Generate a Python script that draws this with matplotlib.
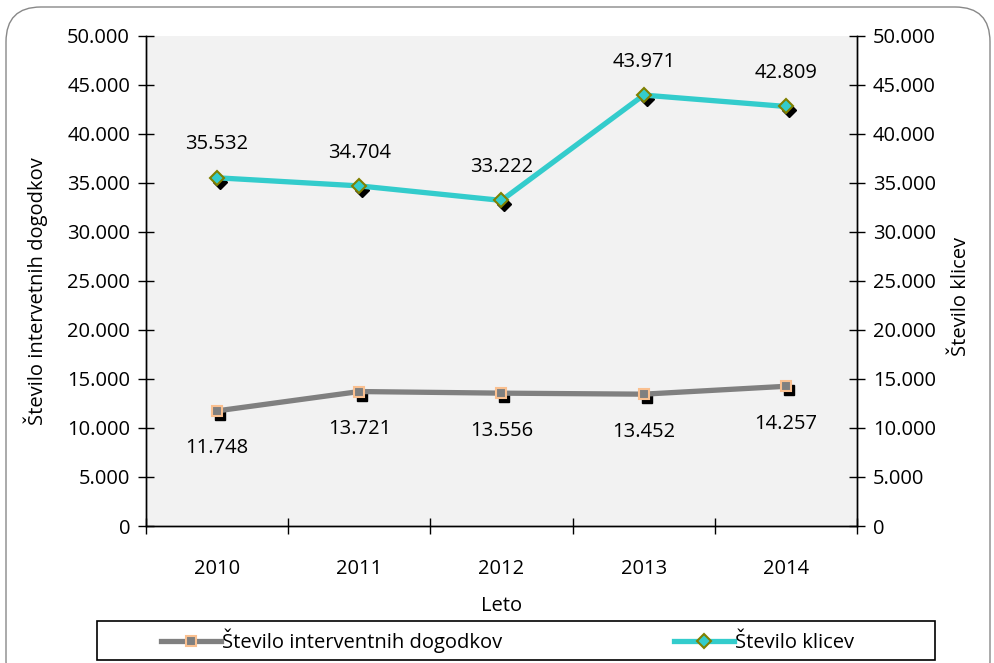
import matplotlib
matplotlib.use("Agg")
import matplotlib.pyplot as plt
import matplotlib.transforms as mtransforms
from matplotlib.patches import FancyBboxPatch, Rectangle
from matplotlib.ticker import FixedLocator, FuncFormatter

years = ["2010", "2011", "2012", "2013", "2014"]
dogodki = [11748, 13721, 13556, 13452, 14257]
klici = [35532, 34704, 33222, 43971, 42809]
y_ticks = [0, 5000, 10000, 15000, 20000, 25000, 30000, 35000, 40000, 45000, 50000]

FONT = ["Open Sans", "DejaVu Sans"]
plt.rcParams["font.family"] = FONT
FS = 14.5

def fmt(v):
    return f"{int(v):,}".replace(",", ".")

fig = plt.figure(figsize=(9.95, 6.63), dpi=100)
fig.patch.set_facecolor("white")

# rounded outer border
border = FancyBboxPatch((6/995, -0.05), (990-6)/995, (656/663) + 0.05,
                        boxstyle="round,pad=0,rounding_size=0.035",
                        transform=fig.transFigure, facecolor="none",
                        edgecolor="#888888", linewidth=1.0,
                        mutation_aspect=995/663)
fig.patches.append(border)

L, R, T, B = 146/995, 857/995, 1-36/663, 1-526/663
ax = fig.add_axes([L, B, R-L, T-B])
ax.set_facecolor("#F2F2F2")
ax2 = ax.twinx()

x = list(range(len(years)))
ax.set_xlim(-0.5, len(years)-0.5)
for a in (ax, ax2):
    a.set_ylim(0, 50000)
    a.yaxis.set_major_locator(FixedLocator(y_ticks))
    a.yaxis.set_major_formatter(FuncFormatter(lambda v, p: fmt(v)))
    for s in a.spines.values():
        s.set_color("black")
        s.set_linewidth(1.0)
    a.spines["top"].set_visible(False)

ax.tick_params(axis="y", direction="inout", length=11, width=1, labelsize=FS, pad=6)
ax2.tick_params(axis="y", direction="inout", length=11, width=1, labelsize=FS, pad=6)

# x ticks at boundaries, labels at centers
ax.set_xticks([i - 0.5 for i in range(len(years)+1)])
ax.set_xticklabels([])
ax.set_xticks(x, minor=True)
ax.set_xticklabels(years, minor=True, fontsize=FS)
ax.tick_params(axis="x", which="major", direction="inout", length=11, width=1)
ax.tick_params(axis="x", which="minor", length=0, pad=24)

shadow = mtransforms.offset_copy(ax.transData, fig=fig, x=3, y=-4, units="dots")
shadow2 = mtransforms.offset_copy(ax2.transData, fig=fig, x=3, y=-4, units="dots")

# gray series (left axis)
ax.plot(x, dogodki, linestyle="none", marker="s", markersize=7.5,
        color="black", transform=shadow, zorder=3)
ln1, = ax.plot(x, dogodki, color="#808080", linewidth=3.8, marker="s",
               markersize=7.5, markerfacecolor="#808080",
               markeredgecolor="#FAC090", markeredgewidth=1.5, zorder=4,
               label="Število interventnih dogodkov")
for xi, v in zip(x, dogodki):
    ax.annotate(fmt(v), (xi, v), xytext=(0, -27), textcoords="offset points",
                ha="center", va="center", fontsize=FS, zorder=6)

# cyan series (right axis)
ax2.plot(x, klici, linestyle="none", marker="D", markersize=7.5,
         color="black", transform=shadow2, zorder=3)
ln2, = ax2.plot(x, klici, color="#33CCCC", linewidth=3.8, marker="D",
                markersize=7.5, markerfacecolor="#33CCCC",
                markeredgecolor="#808000", markeredgewidth=1.5, zorder=4,
                label="Število klicev")
for xi, v in zip(x, klici):
    ax2.annotate(fmt(v), (xi, v), xytext=(0, 24), textcoords="offset points",
                 ha="center", va="center", fontsize=FS, zorder=6)

ax.set_ylabel("Število intervetnih dogodkov", fontsize=FS)
ax.yaxis.set_label_coords((48-146)/711, (526-291)/490)
ax2.set_ylabel("Število klicev", fontsize=FS)
ax2.yaxis.set_label_coords((951-146)/711, (526-297)/490)
ax.set_xlabel("Leto", fontsize=FS, color="black")
ax.xaxis.set_label_coords(0.5, (526-596)/490)

# legend frame
fig.patches.append(Rectangle((97/995, 1-660/663), (935-97)/995, (660-621)/663,
                             transform=fig.transFigure, facecolor="white",
                             edgecolor="black", linewidth=1.2, zorder=1))
yc = 1 - 641/663
lg = fig.legend(handles=[ln1, ln2], loc="center left", bbox_to_anchor=(161/995, yc),
                ncol=2, frameon=False, fontsize=FS, handlelength=3.0,
                handletextpad=0.05, columnspacing=8.5,
                borderaxespad=0, borderpad=0)

fig.savefig("out.png", dpi=100)
